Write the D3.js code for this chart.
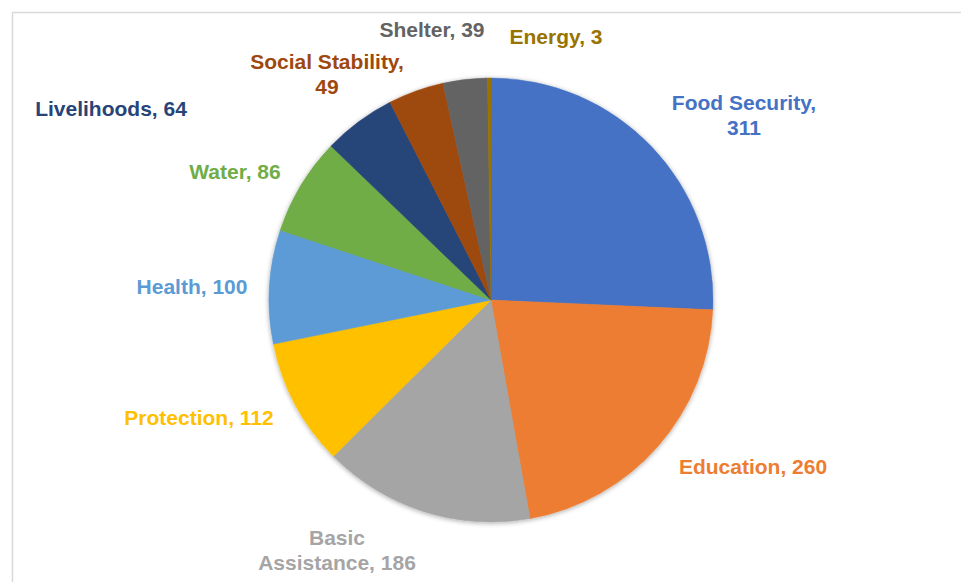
<!DOCTYPE html>
<html>
<head>
<meta charset="utf-8">
<script src="https://cdn.jsdelivr.net/npm/d3@7"></script>
<style>
  html, body { margin: 0; padding: 0; background: #fff; }
  svg { display: block; }
</style>
</head>
<body>
<div id="chart"></div>
<script>
// ---- data ----
const categories = ["Food Security", "Education", "Basic Assistance", "Protection", "Health",
                    "Water", "Livelihoods", "Social Stability", "Shelter", "Energy"];
const values = [311, 260, 186, 112, 100, 86, 64, 49, 39, 3];
const colors = ["#4472C4", "#ED7D31", "#A5A5A5", "#FFC000", "#5B9BD5",
                "#70AD47", "#264478", "#9E480E", "#636363", "#997300"];
// label text lines (as displayed)
const labelLines = [
  ["Food Security,", "311"],
  ["Education, 260"],
  ["Basic", "Assistance, 186"],
  ["Protection, 112"],
  ["Health, 100"],
  ["Water, 86"],
  ["Livelihoods, 64"],
  ["Social Stability,", "49"],
  ["Shelter, 39"],
  ["Energy, 3"]
];

// ---- layout ----
const W = 961, H = 582;
const cx = 491, cy = 300, R = 222;
// label centres (layout, relative to chart centre)
const labelPos = [
  [253, -185], [262, 167], [-154, 250], [-292, 118], [-299, -13],
  [-256, -128], [-380, -191], [-164, -226], [-59, -270], [65, -263]
];
const lineH = 25;

const svg = d3.select("#chart").append("svg").attr("width", W).attr("height", H);

// border (chart area)
svg.append("rect")
  .attr("x", 12.5).attr("y", 12.5).attr("width", W + 20).attr("height", H + 20)
  .attr("fill", "#fff").attr("stroke", "#d9d9d9").attr("stroke-width", 1.5);

const defs = svg.append("defs");
const f = defs.append("filter").attr("id", "shadow")
  .attr("x", "-10%").attr("y", "-10%").attr("width", "120%").attr("height", "120%");
f.append("feGaussianBlur").attr("in", "SourceAlpha").attr("stdDeviation", 2.5).attr("result", "b");
f.append("feOffset").attr("in", "b").attr("dx", 0).attr("dy", 1).attr("result", "o");
f.append("feComponentTransfer").attr("in", "o").attr("result", "t")
  .append("feFuncA").attr("type", "linear").attr("slope", 0.35);
const fm = f.append("feMerge");
fm.append("feMergeNode").attr("in", "t");
fm.append("feMergeNode").attr("in", "SourceGraphic");

const data = categories.map((c, i) => ({ cat: c, value: values[i], color: colors[i], lines: labelLines[i], pos: labelPos[i] }));

const pie = d3.pie().value(d => d.value).sort(null).startAngle(0).endAngle(2 * Math.PI);
const arc = d3.arc().innerRadius(0).outerRadius(R);

const g = svg.append("g").attr("transform", `translate(${cx},${cy})`);
g.append("g").attr("filter", "url(#shadow)")
  .selectAll("path")
  .data(pie(data))
  .join("path")
  .attr("d", arc)
  .attr("fill", d => d.data.color)
  .attr("stroke", d => d.data.color)
  .attr("stroke-width", 0.5);

const labels = g.append("g").selectAll("text")
  .data(data)
  .join("text")
  .attr("text-anchor", "middle")
  .attr("font-family", "'Liberation Sans', Arial, sans-serif")
  .attr("font-weight", "bold")
  .attr("font-size", 21)
  .attr("fill", d => d.color);

labels.each(function(d) {
  const t = d3.select(this);
  const n = d.lines.length;
  d.lines.forEach((ln, j) => {
    t.append("tspan")
      .attr("x", d.pos[0])
      .attr("y", d.pos[1] + (j - (n - 1) / 2) * lineH)
      .attr("dy", "0.35em")
      .text(ln);
  });
});
</script>
</body>
</html>
